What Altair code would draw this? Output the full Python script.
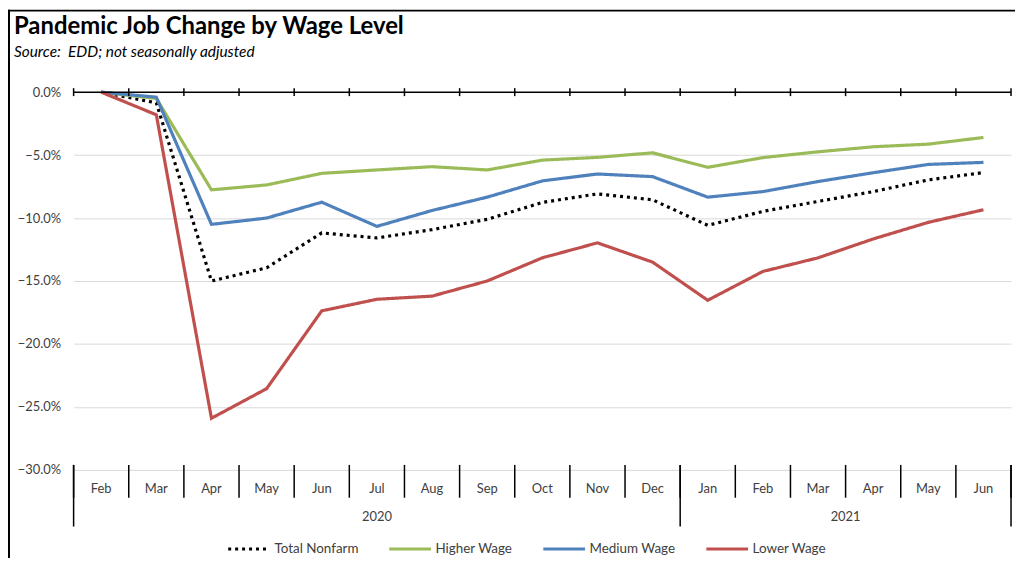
import altair as alt
import pandas as pd

# ---------------- data ----------------
months = ["Feb", "Mar", "Apr", "May", "Jun", "Jul", "Aug", "Sep", "Oct",
          "Nov", "Dec", "Jan", "Feb", "Mar", "Apr", "May", "Jun"]
idx = list(range(len(months)))

total_nonfarm = [0, -0.85, -15.0, -13.95, -11.18, -11.58, -10.92, -10.1, -8.76,
                 -8.08, -8.55, -10.58, -9.47, -8.68, -7.9, -6.97, -6.39]
higher_wage = [0, -0.5, -7.76, -7.37, -6.45, -6.18, -5.92, -6.18, -5.4,
               -5.18, -4.82, -5.97, -5.2, -4.74, -4.34, -4.13, -3.6]
medium_wage = [0, -0.4, -10.5, -10.0, -8.74, -10.66, -9.4, -8.34, -7.05,
               -6.5, -6.71, -8.34, -7.9, -7.1, -6.4, -5.74, -5.58]
lower_wage = [0, -1.8, -25.9, -23.55, -17.37, -16.45, -16.2, -15.0, -13.16,
              -11.97, -13.5, -16.53, -14.24, -13.16, -11.66, -10.34, -9.34]

series_names = ["Total Nonfarm", "Higher Wage", "Medium Wage", "Lower Wage"]
series_colors = ["#000000", "#9BBB59", "#4F81BD", "#C0504D"]
series_dash = [[3, 4], [1, 0], [1, 0], [1, 0]]

y_ticks = [0, -0.05, -0.10, -0.15, -0.20, -0.25, -0.30]
years = ["2020", "2021"]
year_centers = [5, 13.5]
year_bounds = [-0.5, 10.5, 16.5]

title_text = "Pandemic Job Change by Wage Level"
subtitle_text = "Source:\u00a0 EDD; not seasonally adjusted"

# ---------------- layout ----------------
W, H = 943, 380
FONT = "Lato"
LABEL_COLOR = "#404040"

rows = []
for name, vals in zip(series_names, [total_nonfarm, higher_wage, medium_wage, lower_wage]):
    for i, v in zip(idx, vals):
        rows.append({"i": i, "series": name, "value": v / 100.0})
df = pd.DataFrame(rows)

xscale = alt.Scale(domain=[-0.5, len(months) - 0.5], nice=False, zero=False)
yscale = alt.Scale(domain=[-0.30, 0], nice=False, zero=False)

legend = alt.Legend(
    orient="none", legendX=154, legendY=437, direction="horizontal", title=None,
    symbolType="stroke", symbolSize=1764, symbolStrokeWidth=3,
    labelFontSize=13.5, labelFont=FONT, labelColor=LABEL_COLOR,
    columnPadding=24, labelOffset=3, padding=0,
)

lines = alt.Chart(df).mark_line(strokeWidth=3.2, strokeCap="butt").encode(
    x=alt.X("i:Q", scale=xscale, axis=None),
    y=alt.Y("value:Q", scale=yscale, axis=alt.Axis(
        values=y_ticks, format=".1%", grid=True, gridColor="#d9d9d9", gridWidth=1,
        domain=False, ticks=False, labelPadding=13, labelFontSize=13,
        labelFont=FONT, labelColor=LABEL_COLOR, title=None)),
    color=alt.Color("series:N", scale=alt.Scale(domain=series_names, range=series_colors),
                    legend=legend),
    strokeDash=alt.StrokeDash("series:N", scale=alt.Scale(domain=series_names, range=series_dash),
                              legend=legend),
)

bounds_df = pd.DataFrame({"b": [i - 0.5 for i in range(len(months) + 1)]})
dummy = pd.DataFrame({"d": [0]})

zero_line = alt.Chart(dummy).mark_rule(color="black", strokeWidth=1.5).encode(
    y=alt.value(0))

top_ticks = alt.Chart(bounds_df).mark_rule(color="black", strokeWidth=1.5).encode(
    x=alt.X("b:Q", scale=xscale, axis=None), y=alt.value(-4), y2=alt.value(4))

month_seps = alt.Chart(bounds_df).mark_rule(color="black", strokeWidth=1.5).encode(
    x=alt.X("b:Q", scale=xscale, axis=None), y=alt.value(H - 5), y2=alt.value(H + 28))

year_seps = alt.Chart(pd.DataFrame({"b": year_bounds})).mark_rule(color="black", strokeWidth=1.5).encode(
    x=alt.X("b:Q", scale=xscale, axis=None), y=alt.value(H - 5), y2=alt.value(H + 57))

month_labels = alt.Chart(pd.DataFrame({"i": idx, "m": months})).mark_text(
    fontSize=13, font=FONT, color=LABEL_COLOR, baseline="middle").encode(
    x=alt.X("i:Q", scale=xscale, axis=None), y=alt.value(H + 19), text="m:N")

year_labels = alt.Chart(pd.DataFrame({"c": year_centers, "y": years})).mark_text(
    fontSize=13, font=FONT, color=LABEL_COLOR, baseline="middle").encode(
    x=alt.X("c:Q", scale=xscale, axis=None), y=alt.value(H + 47), text="y:N")

title = alt.Chart(pd.DataFrame({"t": [title_text]})).mark_text(
    align="left", baseline="alphabetic", fontSize=24, fontWeight="bold", font=FONT,
    color="black").encode(x=alt.value(-60), y=alt.value(-58), text="t:N")

subtitle = alt.Chart(pd.DataFrame({"t": [subtitle_text]})).mark_text(
    align="left", baseline="alphabetic", fontSize=15.5, fontStyle="italic", font=FONT,
    color="black").encode(x=alt.value(-60), y=alt.value(-35), text="t:N")

frame_left = alt.Chart(dummy).mark_rule(color="black", strokeWidth=2).encode(
    x=alt.value(-65), y=alt.value(-83), y2=alt.value(H + 90))
frame_top = alt.Chart(dummy).mark_rule(color="black", strokeWidth=2).encode(
    x=alt.value(-66), x2=alt.value(W + 6), y=alt.value(-82))

chart = alt.layer(
    lines, zero_line, top_ticks, month_seps, year_seps, month_labels, year_labels,
    title, subtitle, frame_left, frame_top,
).properties(
    width=W, height=H,
    padding={"left": 66, "top": 83, "right": 4, "bottom": 87},
    autosize=alt.AutoSizeParams(type="none"),
    background="white",
).configure_view(stroke=None)

chart.save("out.html", embed_options={"renderer": "svg", "actions": False})
